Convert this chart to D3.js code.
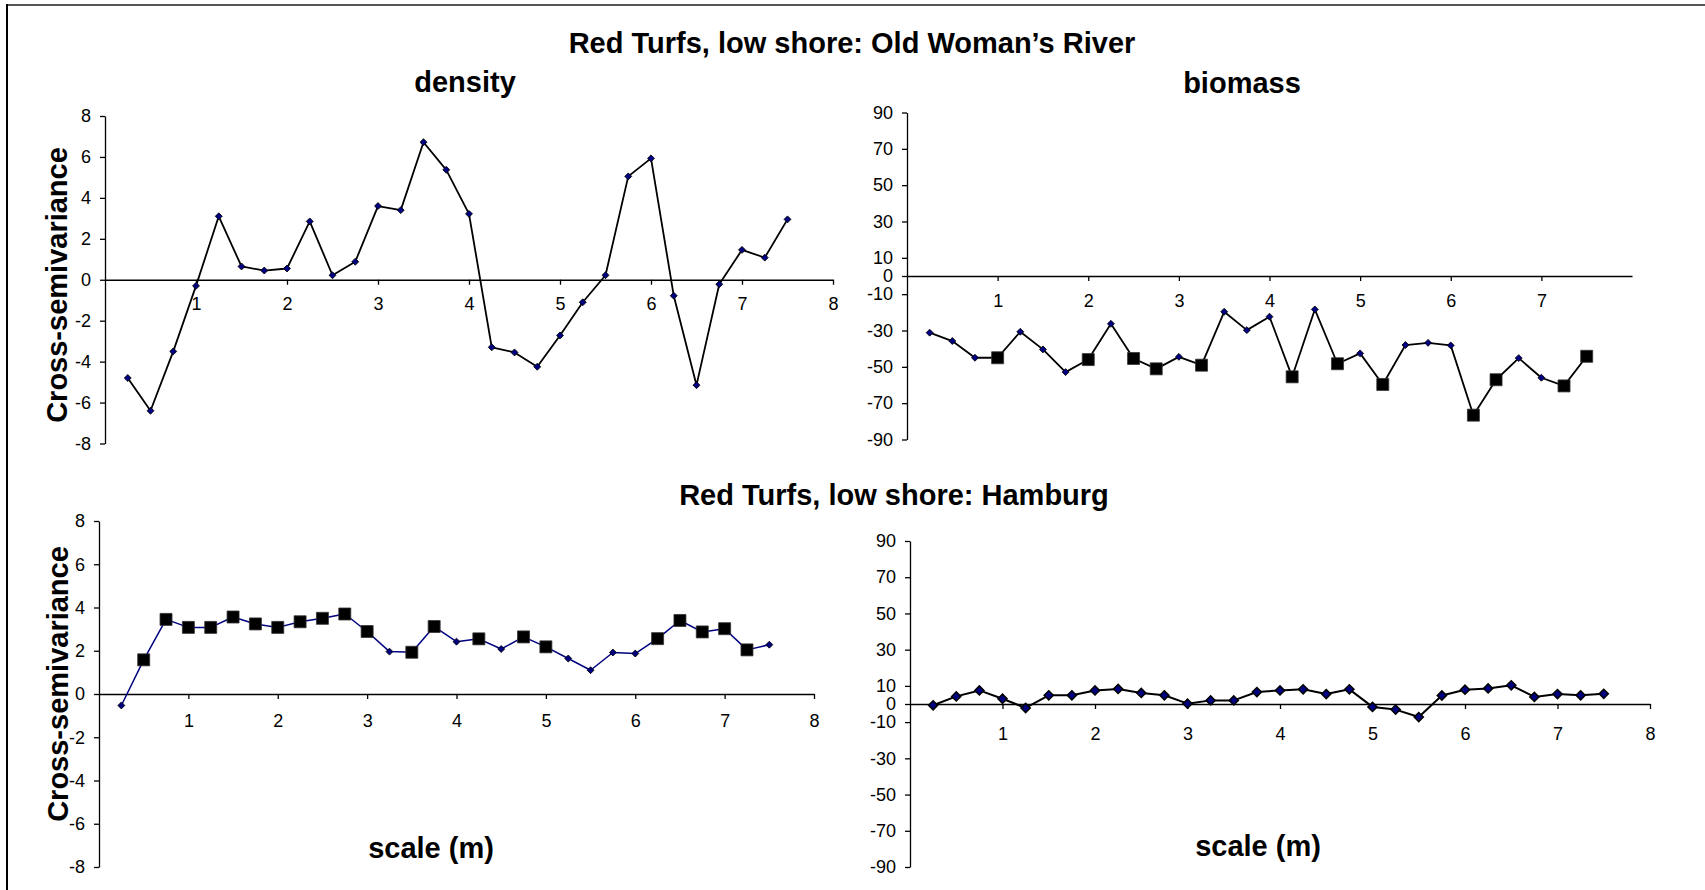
<!DOCTYPE html>
<html>
<head>
<meta charset="utf-8">
<script src="https://cdn.jsdelivr.net/npm/d3@7"></script>
<style>
  body { margin: 0; background: #fff; }
  svg { display: block; }
  text { font-family: "Liberation Sans", Arial, sans-serif; }
</style>
</head>
<body>
<svg id="chart" width="1705" height="890"></svg>
<script>
// lag distances (m)
const lags = [0.25, 0.5, 0.75, 1, 1.25, 1.5, 1.75, 2, 2.25, 2.5, 2.75, 3, 3.25, 3.5, 3.75,
              4, 4.25, 4.5, 4.75, 5, 5.25, 5.5, 5.75, 6, 6.25, 6.5, 6.75, 7, 7.25, 7.5]

// Old Woman's River
const owrDensity = [-4.8, -6.4, -3.5, -0.3, 3.1, 0.65, 0.45, 0.55, 2.85, 0.22, 0.88, 3.6, 3.4, 6.72, 5.37,
                    3.22, -3.3, -3.55, -4.25, -2.72, -1.1, 0.22, 5.05, 5.93, -0.78, -5.15, -0.22, 1.46, 1.08, 2.95]
const owrBiomass = [-31.2, -35.8, -45, -45, -30.7, -40.4, -52.9, -46, -26.3, -45.4, -51.1, -44.5, -49.1, -19.7, -29.8,
                    -22.4, -55.5, -18.4, -48.3, -42.6, -59.7, -38, -36.8, -38.2, -76.6, -57.1, -45.2, -56, -60.5, -44.2]
const owrBiomassSig = [0, 0, 0, 1, 0, 0, 0, 1, 0, 1, 1, 0, 1, 0, 0,
                       0, 1, 0, 1, 0, 1, 0, 0, 0, 1, 1, 0, 0, 1, 1]

// Hamburg
const hamDensity = [-0.53, 1.58, 3.45, 3.08, 3.08, 3.56, 3.24, 3.08, 3.34, 3.5, 3.7, 2.89, 1.96, 1.93, 3.12,
                    2.42, 2.55, 2.08, 2.64, 2.18, 1.64, 1.1, 1.92, 1.87, 2.56, 3.4, 2.87, 3.02, 2.04, 2.28]
const hamDensitySig = [0, 1, 1, 1, 1, 1, 1, 1, 1, 1, 1, 1, 0, 1, 1,
                       0, 1, 0, 1, 1, 0, 0, 0, 0, 1, 1, 1, 1, 1, 0]
const hamBiomass = [-0.7, 4.2, 7.5, 2.9, -2.2, 4.8, 4.8, 7.5, 8.3, 6.1, 4.8, 0.2, 2.0, 2.0, 6.6,
                    7.5, 8.1, 5.5, 8.1, -1.6, -3.1, -7.2, 4.7, 7.9, 8.6, 10.3, 3.9, 5.5, 4.8, 5.6]

// tick labels
const densityTicks = [-8, -6, -4, -2, 0, 2, 4, 6, 8]
const biomassTicks = [90, 70, 50, 30, 10, 0, -10, -30, -50, -70, -90]
const xTicksFull = [1, 2, 3, 4, 5, 6, 7, 8]
const xTicksShort = [1, 2, 3, 4, 5, 6, 7]

const svg = d3.select('#chart')

// frame (only top and left edges show)
svg.append('line').attr('x1', 6).attr('x2', 1705).attr('y1', 5).attr('y2', 5)
    .attr('stroke', '#555').attr('stroke-width', 2)
svg.append('line').attr('x1', 7).attr('x2', 7).attr('y1', 4).attr('y2', 890)
    .attr('stroke', '#000').attr('stroke-width', 2)

function boldText(x, y, txt, rotate) {
    var t = svg.append('text')
        .attr('text-anchor', 'middle')
        .attr('font-weight', 'bold')
        .attr('font-size', 29)
        .text(txt)
    if (rotate) t.attr('transform', 'translate(' + x + ',' + y + ') rotate(-90)')
    else t.attr('x', x).attr('y', y)
}

boldText(852, 53, 'Red Turfs, low shore: Old Woman\u2019s River')
boldText(465, 92, 'density')
boldText(1242, 93, 'biomass')
boldText(894, 505, 'Red Turfs, low shore: Hamburg')
boldText(431, 858, 'scale (m)')
boldText(1258, 856, 'scale (m)')
boldText(67, 285, 'Cross-semivariance', true)
boldText(68, 684, 'Cross-semivariance', true)

// plain hyphen for negatives, like the original
const fmt = d => String(d)

function panel(p) {
    var x = d3.scaleLinear().domain([0, 8]).range([p.x0, p.x1])
    var y = d3.scaleLinear().domain(p.ydom).range([p.yb, p.yt])
    var g = svg.append('g')

    var yAxis = d3.axisLeft(y).tickValues(p.yticks).tickFormat(fmt).tickSize(5).tickSizeOuter(0).tickPadding(9)
    var xAxis = d3.axisBottom(x).tickValues(p.xticks).tickFormat(fmt).tickSize(5).tickSizeOuter(0).tickPadding(p.xpad)

    g.append('g').attr('transform', 'translate(' + x(0) + ',0)').call(yAxis)
    g.append('g').attr('transform', 'translate(0,' + y(0) + ')').call(xAxis)

    g.selectAll('.domain, .tick line').attr('stroke', '#000').attr('stroke-width', 1.3)
    g.selectAll('.tick text')
        .attr('font-family', '"Liberation Sans", Arial, sans-serif')
        .attr('font-size', 18)
        .attr('fill', '#000')

    var pts = lags.map((d, i) => ({ x: d, y: p.values[i], sig: p.sig ? p.sig[i] : 0 }))

    var line = d3.line().x(d => x(d.x)).y(d => y(d.y))
    g.append('path')
        .datum(pts)
        .attr('d', line)
        .attr('fill', 'none')
        .attr('stroke', p.lineColor)
        .attr('stroke-width', p.lineWidth)
        .attr('stroke-linejoin', 'round')

    var diamond = d3.symbol().type(d3.symbolSquare).size(p.diamondSize)
    g.selectAll('.dia')
        .data(pts.filter(d => !d.sig))
        .enter()
        .append('path')
        .attr('d', diamond)
        .attr('transform', d => 'translate(' + x(d.x) + ',' + y(d.y) + ') rotate(45)')
        .attr('fill', '#000080')
        .attr('stroke', '#000')
        .attr('stroke-width', p.diamondStroke)

    var square = d3.symbol().type(d3.symbolSquare).size(144)
    g.selectAll('.sq')
        .data(pts.filter(d => d.sig))
        .enter()
        .append('path')
        .attr('d', square)
        .attr('transform', d => 'translate(' + x(d.x) + ',' + y(d.y) + ')')
        .attr('fill', '#000')
        .attr('stroke', '#333')
        .attr('stroke-width', 0.8)
}

panel({ x0: 105, x1: 833, yt: 116, yb: 443.5, ydom: [-8, 8], yticks: densityTicks, xticks: xTicksFull, xpad: 12,
        values: owrDensity, lineColor: '#000', lineWidth: 1.8, diamondSize: 24, diamondStroke: 0.8 })
panel({ x0: 907, x1: 1632, yt: 112.5, yb: 439.5, ydom: [-90, 90], yticks: biomassTicks, xticks: xTicksShort, xpad: 13,
        values: owrBiomass, sig: owrBiomassSig, lineColor: '#000', lineWidth: 1.8, diamondSize: 24, diamondStroke: 0.8 })
panel({ x0: 99, x1: 814, yt: 521, yb: 867, ydom: [-8, 8], yticks: densityTicks, xticks: xTicksFull, xpad: 15,
        values: hamDensity, sig: hamDensitySig, lineColor: '#000080', lineWidth: 1.5, diamondSize: 24, diamondStroke: 0.8 })
panel({ x0: 910, x1: 1650, yt: 541, yb: 867, ydom: [-90, 90], yticks: biomassTicks, xticks: xTicksFull, xpad: 18,
        values: hamBiomass, lineColor: '#000', lineWidth: 2, diamondSize: 42, diamondStroke: 1.5 })
</script>
</body>
</html>
